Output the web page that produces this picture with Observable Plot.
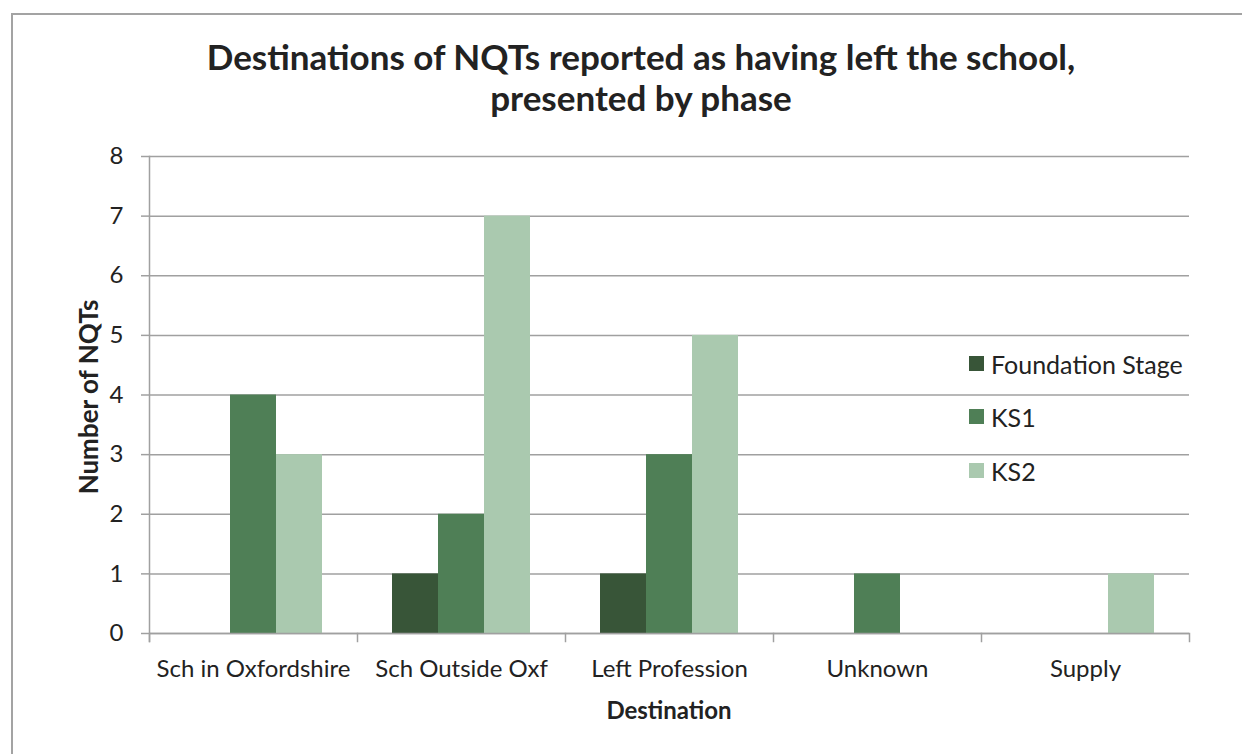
<!DOCTYPE html>
<html>
<head>
<meta charset="utf-8">
<script src="https://cdn.jsdelivr.net/npm/d3@7"></script>
<script src="https://cdn.jsdelivr.net/npm/@observablehq/plot@0.6"></script>
<style>
  html, body { margin: 0; padding: 0; background: #fff; }
  #wrap { position: relative; width: 1242px; height: 754px; overflow: hidden; font-family: Lato, "Open Sans", sans-serif; color: #222; }
  #border { position: absolute; left: 11px; top: 13px; width: 1300px; height: 800px; border-left: 2px solid #a3a3a3; border-top: 2px solid #a3a3a3; }
  #title { position: absolute; left: 141px; width: 1000px; top: 36px; text-align: center; font-weight: bold; font-size: 35px; line-height: 41px; color: #222; }
  #chart { position: absolute; left: 0; top: 0; }
  #ylabel { position: absolute; left: 88px; top: 397px; transform: translate(-50%, -50%) rotate(-90deg); font-weight: bold; font-size: 26px; white-space: nowrap; }
  #xlabel { position: absolute; left: 669px; top: 709px; transform: translate(-50%, -50%); font-weight: bold; font-size: 24px; white-space: nowrap; }
  .lg { position: absolute; left: 969px; height: 30px; display: flex; align-items: center; font-size: 25px; white-space: nowrap; }
  .lg span.sw { display: inline-block; width: 15px; height: 15px; margin-right: 7px; }
</style>
</head>
<body>
<div id="wrap">
  <div id="border"></div>
  <div id="chart"></div>
  <div id="title">Destinations of NQTs reported as having left the school,<br>presented by phase</div>
  <div id="ylabel">Number of NQTs</div>
  <div id="xlabel">Destination</div>
  <div id="legend"></div>
</div>
<script>
const categories = ["Sch in Oxfordshire", "Sch Outside Oxf", "Left Profession", "Unknown", "Supply"];
const seriesNames = ["Foundation Stage", "KS1", "KS2"];
const foundationStage = [0, 1, 1, 0, 0];
const ks1 = [4, 2, 3, 1, 0];
const ks2 = [3, 7, 5, 0, 1];
const colors = ["#385538", "#4f7f56", "#aac9af"];
const yTicks = [0, 1, 2, 3, 4, 5, 6, 7, 8];

const seriesValues = [foundationStage, ks1, ks2];
const data = [];
categories.forEach((c, i) => {
  seriesNames.forEach((s, j) => {
    data.push({cat: c, series: s, value: seriesValues[j][i]});
  });
});

const grey = "#a0a0a0";
const chart = Plot.plot({
  width: 1242,
  height: 754,
  marginLeft: 148,
  marginRight: 52,
  marginTop: 156,
  marginBottom: 121,
  style: {fontFamily: "Lato, 'Open Sans', sans-serif", fontSize: "24px", color: "#222", background: "transparent"},
  fx: {domain: categories, padding: 0, label: null, axis: null},
  x: {domain: seriesNames, paddingInner: 0, paddingOuter: 0.745, axis: null},
  y: {domain: [0, 8], label: null, axis: null},
  color: {domain: seriesNames, range: colors},
  marks: [
    Plot.gridY(yTicks, {stroke: grey, strokeOpacity: 1, strokeWidth: 1.5}),
    Plot.barY(data.filter(d => d.value > 0), {fx: "cat", x: "series", y: "value", fill: "series"}),
    Plot.ruleY([0], {stroke: grey, strokeWidth: 1.5}),
    Plot.frame({anchor: "left", insetTop: 477, insetBottom: -8, stroke: grey, strokeWidth: 1.5}),
    Plot.frame({anchor: "left", facetAnchor: "left", insetBottom: -8, stroke: grey, strokeWidth: 1.5}),
    Plot.frame({anchor: "right", facetAnchor: "right", insetTop: 477, insetBottom: -8, stroke: grey, strokeWidth: 1.5}),
    Plot.axisY(yTicks, {tickSize: 8, tickPadding: 18, stroke: grey, strokeWidth: 1.5, fontSize: 24, label: null, tickFormat: d => d}),
    Plot.axisFx({anchor: "bottom", tickSize: 0, tickPadding: 26, fontSize: 24, label: null})
  ]
});
document.getElementById("chart").appendChild(chart);

const legend = document.getElementById("legend");
const centers = [363.5, 416.5, 470.5];
seriesNames.forEach((s, i) => {
  const row = document.createElement("div");
  row.className = "lg";
  row.style.top = (centers[i] - 15) + "px";
  const sw = document.createElement("span");
  sw.className = "sw";
  sw.style.background = colors[i];
  row.appendChild(sw);
  row.appendChild(document.createTextNode(s));
  legend.appendChild(row);
});
</script>
</body>
</html>
